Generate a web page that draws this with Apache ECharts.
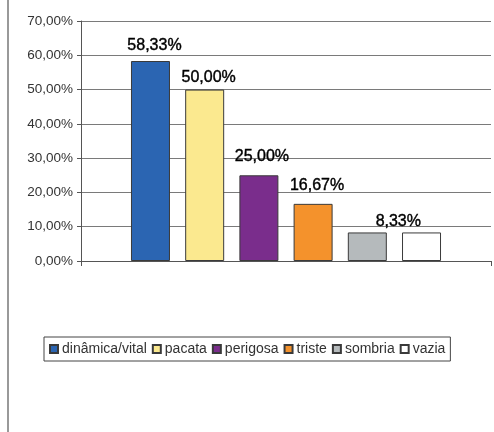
<!DOCTYPE html>
<html>
<head>
<meta charset="utf-8">
<script src="https://cdn.jsdelivr.net/npm/echarts@6/dist/echarts.min.js"></script>
<style>
  html, body { margin: 0; padding: 0; background: #fff; }
  #chart { width: 494px; height: 432px; }
</style>
</head>
<body>
<div id="chart"></div>
<script>
// Each answer is its own series, all in one category group
const categories = ['dinâmica/vital', 'pacata', 'perigosa', 'triste', 'sombria', 'vazia'];
const values = [58.33, 50.00, 25.00, 16.67, 8.33, 8.33];
const colors = ['#2b65b2', '#fbe98f', '#7a2d8c', '#f4922c', '#b5babc', '#ffffff'];
const yTicks = [0, 10, 20, 30, 40, 50, 60, 70];

// label placement tweaks per bar (distance above bar, horizontal shift, visibility)
const labelDistance = [7, 4, 11, 10, 3, 3];
const labelShift = [4, 4, 3, 4, 31, 0];
const labelShown = [true, true, true, true, true, false];

const fmt = v => v.toFixed(2).replace('.', ',') + '%';
const FONT = '"Liberation Sans", Arial, sans-serif';

const chart = echarts.init(document.getElementById('chart'), null, { renderer: 'canvas' });

const series = categories.map((name, i) => ({
  name: name,
  type: 'bar',
  data: [values[i]],
  barWidth: 39,
  barGap: '39%',
  itemStyle: { color: colors[i], borderColor: '#3a3a3a', borderWidth: 1 },
  label: {
    show: labelShown[i],
    position: 'top',
    distance: labelDistance[i],
    offset: [labelShift[i], 0],
    formatter: p => fmt(p.value),
    color: '#000',
    textBorderColor: '#000',
    textBorderWidth: 0.4,
    fontFamily: FONT,
    fontSize: 16,
    fontWeight: 'normal'
  },
  emphasis: { disabled: true },
  animation: false
}));

chart.setOption({
  animation: false,
  backgroundColor: '#fff',
  textStyle: { fontFamily: FONT },
  grid: { left: 81, right: 3, top: 21, bottom: 171, containLabel: false },
  xAxis: {
    type: 'category',
    data: [''],
    axisLine: { show: true, lineStyle: { color: '#555', width: 1 } },
    axisTick: { show: true, length: 5, lineStyle: { color: '#555' } },
    axisLabel: { show: false },
    splitLine: { show: false }
  },
  yAxis: {
    type: 'value',
    min: yTicks[0],
    max: yTicks[yTicks.length - 1],
    interval: 10,
    axisLine: { show: true, lineStyle: { color: '#555', width: 1 } },
    axisTick: { show: true, length: 4, lineStyle: { color: '#555' } },
    axisLabel: {
      margin: 8,
      color: '#333',
      fontSize: 13.5,
      fontFamily: FONT,
      formatter: v => fmt(v)
    },
    splitLine: { show: true, lineStyle: { color: '#7a7a7a', width: 1 } }
  },
  legend: {
    data: categories,
    left: 44,
    top: 337,
    orient: 'horizontal',
    icon: 'rect',
    itemWidth: 8,
    itemHeight: 8,
    itemGap: 5,
    padding: [5, 5, 5, 5],
    borderColor: '#444',
    borderWidth: 1,
    textStyle: { color: '#333', fontSize: 14, fontFamily: FONT, padding: [0, 0, 0, -1] },
    selectedMode: false
  },
  graphic: [
    {
      type: 'line',
      shape: { x1: 8, y1: 0, x2: 8, y2: 432 },
      style: { stroke: '#777', lineWidth: 1.5 }
    }
  ],
  series: series
});
</script>
</body>
</html>
